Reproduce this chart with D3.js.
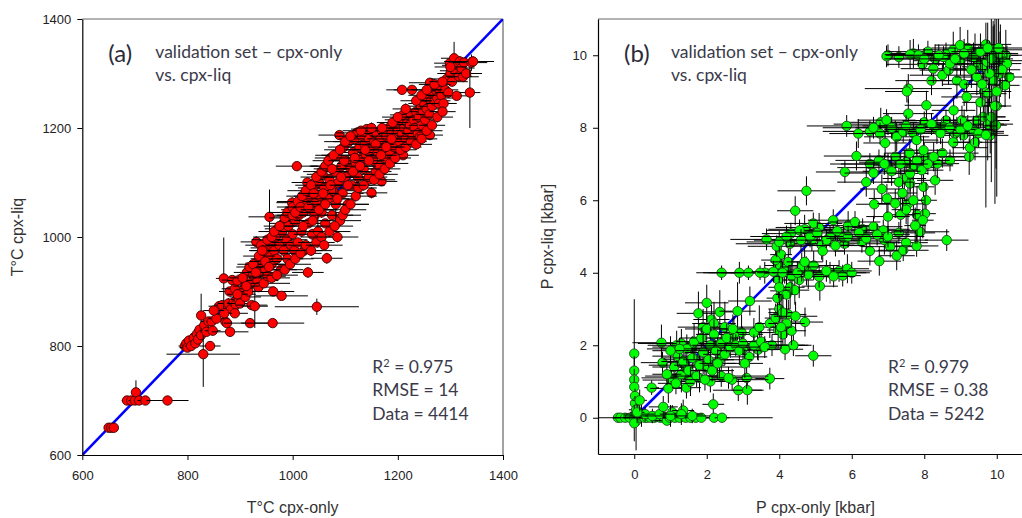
<!DOCTYPE html>
<html><head><meta charset="utf-8">
<script src="https://cdn.jsdelivr.net/npm/d3@7"></script>
<style>body{margin:0;background:#fff}</style>
</head><body><svg id="c" width="1022" height="518"></svg>
<script>
const tempTicks=[600,800,1000,1200,1400];
const pressTicks=[0,2,4,6,8,10];
const panelLabels=["(a)","(b)"];
const titleLines=["validation set – cpx-only","vs. cpx-liq"];
const statsA=["0.975","14","4414"];
const statsB=["0.979","0.38","5242"];
const axisTitlesA=["T°C cpx-only","T°C cpx-liq"];
const axisTitlesB=["P cpx-only [kbar]","P cpx-liq [kbar]"];
// [x, y, xErr, yErr]
const tempPoints=[
[650,650,5,3],[655,650,8,3],[660,650,6,3],
[685,700,10,4],[693,700,8,4],[700,700,12,4],[702,715,6,22],[708,700,10,4],[720,700,15,4],[762,700,40,4],
[795,800,12,8],[798,805,10,6],[800,797,15,5],[803,810,10,8],[807,800,12,6],[812,815,8,10],[815,805,10,8],[818,822,12,6],[820,812,8,8],[823,830,10,6],[826,856,8,40],[826,820,12,8],[830,785,70,60],[832,838,10,10],[836,826,12,6],[840,845,15,8],[843,800,20,8],[846,845,10,6],[848,828,15,6],
[860,873,20,8],[866,875,15,6],[869,924,15,75],[872,845,12,6],[875,842,10,6],[878,878,20,10],[881,826,35,8],[883,868,15,10],[885,921,20,8],[888,880,12,8],[892,876,10,6],[898,885,15,8],[900,878,25,8],[903,920,20,10],[905,895,25,8],[908,905,18,10],[910,890,30,8],[913,935,25,15],[916,900,20,8],[919,842,50,6],[920,915,20,10],[922,875,30,8],[925,930,30,10],[928,873,25,40],[930,952,20,10],[931,991,30,10],[933,920,40,8],[935,908,30,8],[938,935,25,10],[940,960,20,8],[943,950,30,10],[945,915,50,8],[948,940,25,8],[950,980,30,8],[952,928,35,8],[955,965,25,10],[956,1037,40,50],[958,990,25,8],[960,950,30,10],[962,842,60,6],[963,900,40,8],[965,975,30,10],[968,1000,25,10],[970,960,30,8],[972,1015,25,8],[975,985,35,8],[978,940,30,10],[979,892,50,6],[980,1010,30,8],[983,975,35,10],[985,1025,30,8],[988,995,40,8],[990,960,30,10],[992,1020,25,8],[995,1040,30,10],[997,985,40,8],[999,1063,30,10],[1000,1005,35,8],[1003,975,40,10],[1005,1030,30,8],[1008,1130,40,8],[1008,1050,30,10],[1010,990,50,8],[1012,1040,30,10],[1015,1065,25,8],[1017,1010,40,10],[1020,1045,30,8],[1022,975,35,8],[1025,1060,30,10],[1028,1100,30,8],[1029,935,30,10],[1030,1025,35,8],[1032,1075,30,10],[1035,1050,40,8],[1037,1005,35,10],[1040,1090,30,8],[1042,1040,40,10],[1045,1065,35,8],[1046,872,80,15],[1048,1010,40,30],[1050,1100,30,10],[1052,1075,40,8],[1055,1045,35,10],[1057,1115,30,8],[1060,1090,40,10],[1062,1025,35,8],[1065,961,30,10],[1065,1130,30,8],[1067,1070,40,10],[1070,1105,35,8],[1072,1145,30,10],[1075,1040,40,8],[1077,1085,40,10],[1080,1120,30,8],[1082,1060,35,30],[1085,1150,30,10],[1087,1100,40,8],[1089,1187,40,8],[1090,1030,40,10],[1093,1130,35,8],[1095,1080,40,10],[1097,1165,30,8],[1100,1110,40,10],[1102,1140,35,8],[1105,1060,40,10],[1107,1175,30,8],[1110,1125,35,10],[1112,1095,40,8],[1115,1155,30,10],[1118,1180,30,8],[1120,1135,35,10],[1122,1191,40,8],[1124,1110,40,10],[1127,1165,30,8],[1130,1145,35,10],[1132,1185,30,8],[1135,1125,40,10],[1137,1170,30,8],[1140,1150,35,10],[1141,1198,30,8],[1143,1105,35,8],[1145,1180,30,10],[1148,1160,35,8],[1150,1081,30,10],[1150,1195,30,8],[1153,1140,35,10],[1155,1175,30,8],[1158,1120,30,10],[1160,1190,30,8],[1162,1155,35,10],[1165,1130,30,8],[1167,1180,25,10],[1169,1102,30,8],[1170,1195,30,8],[1172,1160,30,10],[1175,1145,35,8],[1178,1185,30,10],[1180,1170,30,8],[1183,1200,25,10],[1185,1155,30,8],[1188,1190,25,10],[1190,1175,30,8],[1193,1165,30,10],[1195,1205,25,8],[1198,1185,30,10],[1200,1195,30,8],[1203,1175,25,10],[1205,1215,30,8],[1208,1190,30,10],[1210,1150,30,8],[1210,1224,25,10],[1212,1200,30,8],[1215,1180,30,10],[1218,1210,25,8],[1220,1195,30,10],[1223,1206,25,8],[1225,1225,30,10],[1227,1270,35,8],[1208,1270,30,8],[1228,1185,30,10],[1230,1215,25,8],[1232,1200,30,10],[1235,1230,25,8],[1238,1190,30,10],[1240,1220,25,8],[1242,1184,25,10],[1244,1240,30,8],[1246,1205,25,10],[1248,1230,25,8],[1250,1245,30,10],[1252,1215,25,8],[1255,1235,25,10],[1258,1255,30,8],[1260,1225,25,10],[1261,1187,25,8],[1261,1283,40,8],[1263,1250,30,10],[1265,1240,25,8],[1267,1265,25,10],[1270,1250,30,8],[1272,1270,25,10],[1275,1255,30,8],[1278,1245,25,10],[1280,1268,25,8],[1283,1260,30,10],[1287,1245,25,8],[1290,1270,25,10],[1293,1290,30,8],[1296,1265,25,10],[1299,1319,30,8],[1300,1300,25,10],[1303,1285,30,8],[1307,1328,25,30],[1310,1305,30,10],[1312,1259,25,8],[1314,1315,30,10],[1316,1295,25,8],[1318,1322,30,10],[1321,1310,25,8],[1324,1294,30,10],[1326,1320,25,8],[1330,1300,30,10],[1337,1265,20,65],[1340,1320,30,15],[1343,1322,40,10],
[940,985,30,8],[945,975,25,10],[952,995,30,8],[960,1000,35,10],[965,1010,30,8],[975,1020,30,10],[985,1035,30,8],[990,1045,35,10],[1000,1055,30,8],[1010,1065,40,10],[1018,1075,30,8],[1025,1085,35,10],[1035,1095,30,8],[1045,1110,30,10],[1055,1120,35,8],[1062,1130,30,10],[1068,1140,30,8],[1078,1150,35,10],[1090,1160,30,8],[1100,1175,40,10],[1110,1185,30,8],
[960,925,35,8],[970,930,40,10],[985,940,35,8],[995,950,40,10],[1005,960,35,8],[1015,970,40,10],[1025,985,35,8],[1035,975,40,10],[1045,990,35,8],[1055,1000,40,10],[1060,985,35,8],[1070,1010,40,10],[1080,1020,35,8],[1085,1000,40,10],[1095,1040,35,8],[1100,1050,40,10],[1110,1060,35,8],[1120,1075,40,10],[1125,1090,35,8],[1135,1095,40,10],[1145,1110,35,8],[1155,1105,40,10],[1165,1115,35,8],[1175,1125,30,10],[1185,1135,35,8],[1195,1145,30,10],[1205,1160,30,8],[1215,1165,30,10],[1225,1175,30,8],[1235,1170,30,10],[1245,1180,30,8],[1255,1195,30,10],[1265,1205,25,8],[1275,1220,30,10],[1285,1230,25,8],
[1130,1195,35,8],[1150,1200,30,10],[1170,1200,30,8],[1190,1210,30,10],[1200,1220,30,8],[1215,1235,25,10],[1235,1250,30,8],[1245,1260,25,10],[1255,1270,30,8],[1270,1280,30,10],[1285,1285,25,8],[1300,1312,30,10],
[1000,1040,30,8],[1005,1045,35,10],[1015,1055,30,8],[1020,1020,35,10],[1030,1055,30,8],[1038,1030,35,10],[1040,1080,30,8],[1050,1050,35,10],[1058,1080,30,8],[1062,1060,35,10],[1072,1095,30,8],[1075,1125,35,10],[1085,1070,30,8],[1092,1110,35,10],[1098,1140,30,8],[1105,1095,35,10],[1115,1120,30,8],[1118,1145,35,10],[1128,1130,30,8],[1138,1160,35,10],[1145,1140,30,8],[1158,1170,35,10],[1168,1150,30,8],[1178,1165,35,10],[1188,1180,30,8],
[880,900,20,8],[890,905,25,10],[895,920,20,8],[905,925,25,10],[912,910,25,8],[918,945,25,10],[925,950,30,8],[930,935,25,10],[936,965,30,8],[942,975,25,10],[948,955,30,8],[955,945,25,10],[890,860,25,8],[895,895,20,10],[870,860,15,8],[855,850,15,8],[850,865,20,8]
];
const pressPoints=[
[-0.45,0,0.15,0.05],[-0.38,0,0.2,0.05],[-0.25,0,0.3,0.05],[-0.12,0,0.2,0.05],[0,0,0.3,0.05],[0.05,-0.1,0.1,0.8],[0.12,0,0.4,0.1],[0.2,0.05,0.3,0.3],[0.28,0,0.3,0.1],[0.35,0,0.3,0.05],[0.45,0,0.3,0.05],[0.55,0,0.4,0.1],[0.62,0.02,0.3,0.05],[0.72,0,0.4,0.1],[0.82,0,0.3,0.05],[0.9,-0.08,0.4,0.1],[0.98,0,0.3,0.1],[1.05,0.15,0.4,0.2],[1.12,0,0.5,0.05],[1.25,0,0.3,0.05],[1.35,0.2,0.3,0.3],[1.42,0,2.4,0.05],[1.55,0,0.3,0.05],[1.7,0,0.3,0.05],[1.85,0,0.3,0.05],[2.18,0.37,0.3,0.3],[2.2,0,0.2,0.05],[2.42,0,0.2,0.05],
[0.3,0.1,0.6,0.2],[0.5,0.05,0.8,0.2],[0.7,0.1,0.6,0.2],[1.0,0.05,0.7,0.3],[1.3,0.1,0.6,0.3],[0.8,0.3,0.4,0.3],[1.6,0.05,0.5,0.2],
[0,1.77,0.1,1.5],[0,1.3,0.1,0.4],[0,1.05,0.1,0.3],[0,0.85,0.1,0.3],[0.02,0.6,0.1,0.2],[0.02,0.4,0.1,0.2],[0.05,0.22,0.2,0.2],[0,-0.15,0.1,0.5],[0.08,0.15,0.2,0.3],[0.48,0.83,0.2,0.2],[0.15,0.48,0.2,0.3],
[0.75,2.07,0.8,0.5],[0.78,1.52,0.6,0.3],[1.03,1.04,0.8,0.3],[0.94,0.81,0.5,0.4],[1.17,2.0,0.8,0.4],[1.44,0.83,0.4,0.3],[1.77,2.88,0.6,0.6],[2.0,3.17,0.6,0.5],[2.13,2.71,0.5,0.4],[2.36,2.92,0.5,0.6],[2.41,4.0,0.7,0.2],[2.85,2.94,0.5,0.8],[3.19,3.22,0.6,0.4],[2.96,2.35,0.6,0.5],[2.87,0.76,0.7,0.3],[3.12,0.76,0.4,0.4],[3.1,1.1,0.5,0.3],[3.74,1.08,0.4,0.3],[3.17,1.68,0.5,0.3],[3.42,1.88,0.6,0.3],
[1.3,2.05,1.2,0.4],[1.6,1.95,1.1,0.3],[2.3,2.0,1.3,0.3],[2.7,2.1,1.2,0.3],[3.0,1.9,1.5,0.3],[3.4,2.0,1.3,0.4],[3.8,2.0,1.0,0.3],[1.2,1.1,1.0,0.3],[1.5,1.15,1.2,0.3],[1.8,1.1,1.0,0.4],[2.1,1.0,1.1,0.3],[2.4,1.15,1.3,0.3],[2.7,1.05,1.0,0.3],[1.4,1.45,1.0,0.4],[1.7,1.6,0.9,0.4],[2.0,1.4,1.0,0.4],[2.35,1.6,0.9,0.5],[1.9,2.5,0.7,0.5],[2.2,2.6,0.6,0.6],[2.5,2.5,0.5,0.7],[2.75,2.3,0.8,0.5],[3.3,2.35,0.7,0.4],[3.45,2.5,0.5,0.6],
[1.1,1.4,0.6,0.4],[1.2,1.7,0.7,0.3],[1.3,1.2,0.5,0.5],[1.35,1.55,0.6,0.3],[1.45,1.9,0.7,0.4],[1.5,1.3,0.6,0.3],[1.55,1.0,0.5,0.4],[1.6,1.65,0.8,0.3],[1.65,2.1,0.5,0.5],[1.72,1.15,0.6,0.3],[1.8,1.45,0.7,0.4],[1.85,2.2,0.6,0.3],[1.9,1.8,0.5,0.6],[1.95,1.05,0.6,0.3],[2.0,2.45,0.6,0.4],[2.05,1.6,0.7,0.3],[2.1,2.0,0.5,0.5],[2.15,1.3,0.6,0.3],[2.2,2.3,0.5,0.4],[2.25,1.85,0.8,0.3],[2.3,1.5,0.5,0.4],[2.4,2.05,0.6,0.3],[2.5,1.75,0.6,0.3],[2.55,2.2,0.5,0.4],[2.6,1.1,0.4,0.3],[2.65,1.95,0.7,0.3],[2.72,2.45,0.5,0.4],[2.8,2.0,1.0,0.3],[2.9,1.85,0.6,0.4],[3.0,2.05,0.7,0.3],[3.05,1.5,0.5,0.4],[3.3,2.0,0.8,0.3],[3.5,2.1,0.6,0.3],[3.6,1.95,0.9,0.3],[1.25,1.9,0.9,0.3],[1.0,1.85,0.5,0.4],[0.9,1.2,0.4,0.3],[1.15,0.95,0.5,0.3],
[3.97,2.42,0.3,0.5],[3.74,2.6,0.4,0.4],[3.9,2.75,0.3,0.4],[4.0,3.0,0.3,0.6],[3.95,3.3,0.3,0.5],[4.05,3.5,0.3,0.4],[3.98,3.8,0.2,0.5],[4.1,2.3,0.3,0.4],[4.16,1.89,0.5,0.3],[4.39,2.0,0.5,0.3],[4.94,1.71,0.5,0.3],[4.71,2.64,0.5,0.4],[4.34,2.4,0.4,0.4],[4.25,2.85,0.5,0.4],[4.2,3.4,0.3,0.5],[4.3,3.6,0.4,0.6],[4.43,3.52,0.4,0.4],[4.0,4.2,0.4,0.4],[4.05,4.5,0.3,0.5],[3.9,4.35,0.4,0.3],
[4.0,3.6,0.3,0.5],[4.15,4.1,0.5,0.4],[4.25,4.3,0.5,0.4],[4.35,3.9,0.5,0.5],[4.55,3.8,0.4,0.5],[4.75,4.05,0.8,0.4],[4.95,4.2,0.7,0.4],[5.4,4.0,1.0,0.3],[5.65,4.05,0.9,0.3],[3.6,4.0,1.2,0.3],[2.9,4.0,1.0,0.3],[4.1,2.9,0.4,0.5],[4.2,2.6,0.5,0.4],[4.45,2.8,0.6,0.4],[4.05,2.5,0.3,0.6],
[3.15,4.0,1.1,0.2],[3.47,4.0,0.8,0.2],[3.84,4.03,0.6,0.3],[4.09,4.0,0.7,0.3],[4.62,4.16,0.6,0.4],[5.12,3.63,0.5,0.4],[5.1,3.89,0.6,0.3],[5.75,3.92,0.5,0.3],[5.88,4.11,0.6,0.4],[6.0,4.0,0.5,0.3],[4.5,4.0,0.7,0.3],[4.8,3.95,0.6,0.4],[5.3,4.05,0.8,0.3],[5.5,3.9,0.6,0.3],[4.7,4.3,0.5,0.4],
[4.3,4.8,1.5,0.3],[4.9,4.9,1.6,0.3],[5.4,5.0,1.5,0.3],[5.8,4.8,1.4,0.3],[6.3,5.2,1.3,0.3],[6.9,4.9,1.2,0.4],[4.7,5.2,1.0,0.4],[5.1,5.25,1.2,0.4],[6.5,4.6,1.0,0.4],[7.3,5.1,1.0,0.3],[5.9,5.3,0.7,0.4],
[3.65,4.92,1.0,0.3],[3.93,4.73,0.8,0.3],[4.44,5.71,0.5,0.4],[4.75,6.26,0.8,0.4],[4.32,5.08,0.8,0.3],[4.56,5.17,0.9,0.3],[4.94,5.36,0.8,0.3],[5.17,4.76,0.9,0.4],[5.49,5.45,0.7,0.3],[5.77,4.99,0.9,0.3],[6.09,5.4,0.7,0.3],[6.28,4.85,1.0,0.3],[6.6,5.27,0.8,0.3],[6.76,4.32,0.6,0.4],[6.87,5.17,0.9,0.3],[7.06,4.72,0.8,0.3],[7.24,4.47,0.5,0.4],[7.42,4.62,0.7,0.3],[7.5,4.83,0.6,0.3],[7.79,4.74,0.6,0.3],[7.89,5.13,0.8,0.3],[8.62,4.9,0.6,0.3],[4.0,4.85,0.9,0.3],[4.2,5.0,1.0,0.3],[4.6,4.9,0.8,0.3],[4.85,5.0,1.1,0.3],[5.05,5.1,0.9,0.3],[5.3,4.9,1.0,0.3],[5.6,5.15,0.9,0.3],[5.9,5.0,1.0,0.3],[6.2,5.1,0.9,0.3],[6.4,4.95,1.1,0.3],[6.7,5.05,0.9,0.3],[7.0,5.0,1.0,0.3],[5.2,4.6,0.6,0.3],[5.55,4.75,0.8,0.3],
[6.5,7.0,1.1,0.3],[6.75,7.1,1.2,0.3],[7.0,6.9,1.4,0.4],[7.2,7.2,1.0,0.5],[7.5,7.05,1.3,0.4],[7.7,6.95,1.1,0.4],[8.0,7.2,1.2,0.4],[8.5,7.3,1.0,0.4],[6.4,6.5,0.8,0.4],[7.45,6.6,0.6,0.8],[7.55,5.9,0.4,0.9],[7.8,5.6,0.3,0.8],[7.35,5.6,0.4,0.5],[7.0,5.55,0.6,0.5],
[6.62,5.89,0.5,0.4],[6.97,6.05,0.5,0.4],[7.2,5.91,0.5,0.4],[7.5,5.74,0.4,0.4],[7.61,6.46,0.4,0.6],[7.98,6.37,0.3,0.5],[8.05,6.0,0.3,0.5],[8.02,5.63,0.3,0.5],[7.96,5.45,0.3,0.5],[6.83,6.31,0.6,0.4],[7.61,6.74,0.5,0.5],[7.93,6.83,0.6,0.4],[8.3,6.55,0.5,0.4],[8.36,7.01,0.6,0.4],[8.71,7.1,0.5,0.3],[9.24,7.2,0.6,0.5],[9.26,7.45,0.5,0.4],[9.08,7.79,0.6,0.4],[8.85,7.84,0.7,0.4],[5.81,6.78,0.8,0.3],[6.13,7.22,0.9,0.4],[7.3,6.5,0.4,0.5],[7.4,6.2,0.4,0.5],[7.7,6.0,0.3,0.5],[7.75,5.3,0.3,0.5],[7.1,6.8,0.8,0.4],[7.35,7.0,1.0,0.3],[7.8,7.1,0.9,0.3],[8.1,7.0,0.7,0.3],[6.9,7.0,1.2,0.3],[6.6,6.75,0.8,0.3],[7.6,7.3,0.7,0.4],
[7.0,8.1,1.5,0.3],[7.2,7.9,1.4,0.3],[7.7,7.85,1.5,0.3],[8.0,8.15,1.3,0.3],[8.35,7.95,1.4,0.4],[8.6,8.2,1.2,0.3],[8.9,7.9,1.3,0.4],[9.1,8.1,1.1,0.4],[9.45,8.2,0.9,0.5],[9.75,8.1,0.7,1.0],[8.8,7.6,0.8,0.4],[9.4,7.6,0.6,0.5],[6.5,7.9,1.3,0.3],[6.8,8.15,1.0,0.4],
[5.86,8.05,1.1,0.3],[6.18,7.84,0.8,0.4],[6.78,7.84,0.9,0.3],[6.92,7.58,0.6,0.4],[6.96,8.21,0.8,0.3],[7.24,7.75,0.9,0.4],[7.42,7.89,0.8,0.3],[7.56,8.39,0.7,0.4],[8.06,8.62,0.6,0.4],[7.79,7.66,0.6,0.4],[7.98,7.38,0.6,0.4],[8.26,7.2,0.6,0.4],[8.53,8.02,0.8,0.3],[8.81,8.48,0.6,0.4],[9.04,8.21,0.7,0.4],[9.36,7.93,0.6,0.4],[9.82,7.79,0.5,0.5],[9.98,8.07,0.3,1.2],[9.63,8.3,0.6,0.4],[7.1,8.0,1.0,0.3],[7.5,8.05,1.2,0.3],[7.9,7.95,1.0,0.3],[8.2,8.1,0.9,0.3],[8.45,7.85,0.8,0.3],[8.7,8.0,1.0,0.3],[9.0,7.95,0.9,0.3],[9.2,8.05,0.8,0.3],[9.5,7.85,0.7,0.4],[6.6,8.0,1.4,0.3],[9.7,7.8,0.3,2.0],
[7.0,10.0,0.1,0.3],[7.3,9.95,0.4,0.3],[7.7,10.05,0.8,0.4],[8.1,10.1,1.2,0.3],[8.3,9.9,1.4,0.4],[8.6,10.05,1.4,0.3],[8.8,10.15,1.2,0.5],[9.0,9.85,1.3,0.4],[9.2,10.2,1.0,0.5],[9.4,10.0,1.2,0.6],[9.5,9.75,0.9,0.5],[9.7,10.3,0.7,0.6],[9.9,10.15,0.8,0.8],[10.1,9.85,0.9,1.0],[10.25,10.0,0.8,0.7],[10.35,9.4,0.5,0.6],[9.65,9.0,0.6,0.8],[9.85,8.3,0.4,1.8],[10.0,8.6,0.4,2.5],[9.55,8.7,0.5,0.7],[8.2,9.3,1.0,0.4],[8.5,9.45,0.9,0.3],[8.9,9.3,0.8,0.5],[9.1,9.2,0.6,0.6],[7.95,9.75,1.0,0.3],
[9.77,8.94,0.5,0.6],[10.07,9.49,0.4,0.8],[10.23,9.17,0.4,0.6],[10.28,9.77,0.4,0.5],[9.93,10.05,0.5,0.8],[6.96,9.97,0.05,0.3],[7.61,10.02,0.7,0.4],[7.84,10.0,0.9,0.3],[8.25,9.63,0.9,0.4],[8.67,9.59,0.8,0.4],[8.99,10.28,0.7,0.5],[9.36,9.95,0.9,0.4],[9.63,9.68,0.6,0.5],[9.73,9.82,0.5,0.6],[7.56,9.08,1.2,0.4],[7.52,9.0,0.6,0.3],[9.17,8.85,0.7,0.4],[8.53,9.95,1.0,0.3],[10.09,10.05,0.5,0.6],[9.45,9.4,0.6,0.5],[8.71,9.77,0.9,0.3],[8.0,9.9,1.1,0.3],[8.4,10.0,1.3,0.3],[8.85,9.9,1.0,0.3],[9.1,10.05,1.1,0.4],[9.55,10.1,0.8,0.5],[9.85,9.9,0.6,2.0],[9.9,9.3,0.4,1.5],[9.95,8.6,0.3,2.7],[10.0,9.0,0.4,1.2],[9.6,9.2,0.5,0.6],[9.3,9.6,0.6,0.5],[10.15,9.6,0.5,0.6],[10.05,10.2,0.7,0.8],[9.8,9.5,0.4,0.9],[9.75,10.2,0.5,0.7]
];

const svg=d3.select("#c");
const annFont="Lato, 'Open Sans', sans-serif";
const axFont="'Liberation Sans', Arial, sans-serif";

function drawPanel(cfg){
  const x=d3.scaleLinear().domain(cfg.dom).range([cfg.left,cfg.right]);
  const y=d3.scaleLinear().domain(cfg.dom).range([cfg.bottom,cfg.top]);
  const g=svg.append("g");
  const cid="clip"+cfg.id;
  svg.append("clipPath").attr("id",cid).append("rect")
    .attr("x",cfg.left).attr("y",cfg.top).attr("width",cfg.right-cfg.left).attr("height",cfg.bottom-cfg.top);
  g.append("line").attr("x1",cfg.left).attr("x2",cfg.right).attr("y1",cfg.top).attr("y2",cfg.top).attr("stroke","#666").attr("stroke-width",1.2);
  g.append("line").attr("x1",cfg.right).attr("x2",cfg.right).attr("y1",cfg.top).attr("y2",cfg.bottom).attr("stroke","#666").attr("stroke-width",1.2);
  const plot=g.append("g").attr("clip-path",`url(#${cid})`);
  plot.append("line").attr("x1",x(cfg.line[0])).attr("y1",y(cfg.line[0])).attr("x2",x(cfg.line[1])).attr("y2",y(cfg.line[1]))
    .attr("stroke","#0000ff").attr("stroke-width",2.6);
  const pts=plot.selectAll("g.pt").data(cfg.data).join("g").attr("class","pt");
  pts.append("line").attr("x1",d=>x(d[0]-d[2])).attr("x2",d=>x(d[0]+d[2])).attr("y1",d=>y(d[1])).attr("y2",d=>y(d[1]))
    .attr("stroke","#000").attr("stroke-width",1);
  pts.append("line").attr("x1",d=>x(d[0])).attr("x2",d=>x(d[0])).attr("y1",d=>y(d[1]-d[3])).attr("y2",d=>y(d[1]+d[3]))
    .attr("stroke","#000").attr("stroke-width",1);
  pts.append("circle").attr("cx",d=>x(d[0])).attr("cy",d=>y(d[1])).attr("r",4.7)
    .attr("fill",cfg.fill).attr("stroke",cfg.stroke).attr("stroke-width",0.9);
  const xa=g.append("g").attr("transform",`translate(0,${cfg.bottom})`)
    .call(d3.axisBottom(x).tickValues(cfg.ticks).tickSize(5).tickSizeOuter(0).tickPadding(11).tickFormat(d3.format("d")));
  const ya=g.append("g").attr("transform",`translate(${cfg.left},0)`)
    .call(d3.axisLeft(y).tickValues(cfg.ticks).tickSize(5).tickSizeOuter(0).tickPadding(6).tickFormat(d3.format("d")));
  [xa,ya].forEach(a=>{
    a.select(".domain").attr("stroke","#000").attr("stroke-width",1.2);
    a.selectAll(".tick line").attr("stroke","#000");
    a.selectAll("text").attr("font-family",axFont).attr("font-size",13).attr("fill","#222");
  });
  g.append("text").attr("x",(x(cfg.dom[0])+x(cfg.dom[1]))/2).attr("y",513).attr("text-anchor","middle")
    .attr("font-family",axFont).attr("font-size",16).attr("fill","#333").text(cfg.titles[0]);
  g.append("text").attr("transform",`translate(${cfg.ytx},${(cfg.top+cfg.bottom)/2}) rotate(-90)`).attr("text-anchor","middle")
    .attr("font-family",axFont).attr("font-size",16).attr("fill","#333").text(cfg.titles[1]);
  g.append("text").attr("x",cfg.left+26).attr("y",62).attr("font-family",annFont).attr("font-size",24).attr("fill","#2a2a3a").text(cfg.label);
  titleLines.forEach((t,i)=>g.append("text").attr("x",cfg.left+73).attr("y",58+i*23).attr("font-family",annFont)
    .attr("font-size",17.5).attr("fill","#3a3a4a").text(t));
  const st=g.append("text").attr("font-family",annFont).attr("font-size",17.5).attr("fill","#3a3a4a");
  const sx=cfg.left+290;
  const l1=st.append("tspan").attr("x",sx).attr("y",373);
  l1.append("tspan").text("R");
  l1.append("tspan").attr("dy",-6).attr("font-size",11).text("2");
  l1.append("tspan").attr("dy",6).text(" = "+cfg.stats[0]);
  st.append("tspan").attr("x",sx).attr("y",396).text("RMSE = "+cfg.stats[1]);
  st.append("tspan").attr("x",sx).attr("y",420).text("Data = "+cfg.stats[2]);
}

drawPanel({id:"a",dom:[600,1400],left:82.3,right:503,top:19,bottom:455,ticks:tempTicks,line:[600,1400],data:tempPoints,
  fill:"#ff0000",stroke:"#3a0000",label:panelLabels[0],stats:statsA,titles:axisTitlesA,ytx:23});
drawPanel({id:"b",dom:[-1,11],left:598,right:1033,top:19,bottom:454,ticks:pressTicks,line:[0,10],data:pressPoints,
  fill:"#00ff00",stroke:"#1f4a1f",label:panelLabels[1],stats:statsB,titles:axisTitlesB,ytx:553});
</script></body></html>
